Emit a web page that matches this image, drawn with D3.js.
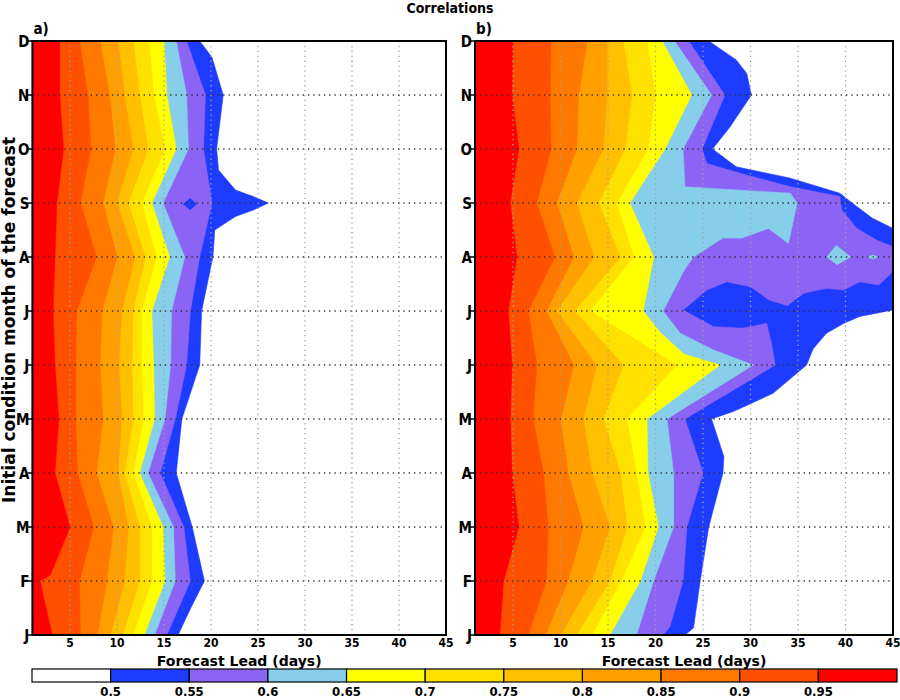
<!DOCTYPE html>
<html><head><meta charset="utf-8">
<script src="https://cdn.jsdelivr.net/npm/d3@7"></script>
<style>
body{margin:0;background:#fff;}
svg text{font-family:"DejaVu Sans Condensed","DejaVu Sans",sans-serif;font-stretch:condensed;font-weight:bold;fill:#000;}
svg text.wide{font-family:"DejaVu Sans",sans-serif;font-stretch:normal;}
</style></head>
<body><svg id="c" width="900" height="700"></svg>
<script>
// ---- categories / ticks ----
const months = ["J","F","M","A","M","J","J","A","S","O","N","D"];
const leadTicks = [5,10,15,20,25,30,35,40,45];
const levels = [0.5,0.55,0.6,0.65,0.7,0.75,0.8,0.85,0.9,0.95];
const levelLabels = ["0.5","0.55","0.6","0.65","0.7","0.75","0.8","0.85","0.9","0.95"];
const bandColors = ["#ffffff","#1e3cff","#8c64f5","#87ceeb","#ffff00","#ffe100","#ffc000","#ffa000","#ff7800","#ff5000","#ff0000"];

// ---- panel a: contour lines [lead, monthIndex] from Dec (11) down to Jan (0) ----
const a050 = [[18.8,11],[20.1,10.7],[21.3,10],[20.6,9],[20.8,8.61],[22.6,8.24],[24.5,8.12],[26.1,8],[24.5,7.87],[22.6,7.75],[20.4,7.5],[20.2,7],[19.0,6],[18.8,5],[16.9,4],[16.3,3],[18.0,2],[19.3,1],[17.9,0.52],[16.5,0]];
const a055 = [[17.4,11],[19.4,10],[19.2,9],[20.1,8],[18.8,7],[17.8,6],[17.4,5],[16.2,4],[14.6,3],[17.1,2],[17.8,1],[15.3,0]];
const a060 = [[16.3,11],[17.4,10],[17.6,9],[14.9,8],[17.2,7],[15.8,6],[15.7,5],[15.1,4],[13.3,3],[16.0,2],[16.2,1],[14.0,0]];
const a065 = [[15.0,11],[15.3,10],[16.3,9],[13.7,8],[15.6,7],[13.7,6],[13.9,5],[14.0,4],[12.4,3],[14.9,2],[15.1,1],[12.9,0]];
const a070 = [[13.4,11],[13.9,10],[15.1,9],[12.6,8],[14.2,7],[12.6,6],[12.6,5],[12.8,4],[11.7,3],[13.7,2],[13.7,1],[11.7,0]];
const a075 = [[11.7,11],[12.4,10],[13.3,9],[11.2,8],[13.0,7],[11.7,6],[11.6,5],[11.7,4],[10.8,3],[12.4,2],[12.4,1],[10.6,0]];
const a080 = [[10.1,11],[10.8,10],[11.7,9],[10.0,8],[11.9,7],[10.5,6],[10.2,5],[10.5,4],[10.1,3],[11.2,2],[10.8,1],[9.3,0]];
const a085 = [[8.2,11],[9.2,10],[9.8,9],[8.5,8],[10.0,7],[8.4,6],[8.2,5],[8.5,4],[7.8,3],[9.6,2],[8.9,1],[7.9,0]];
const a090 = [[6.0,11],[6.9,10],[7.2,9],[6.1,8],[7.8,7],[5.7,6],[5.6,5],[5.6,4],[5.8,3],[7.5,2],[6.0,1],[6.1,0]];
const a095 = [[3.9,11],[3.9,10],[4.3,9],[3.6,8],[3.4,7],[3.2,6],[3.4,5],[3.8,4],[3.4,3],[5.0,2],[2.9,1.11],[1.8,1],[3.1,0]];
const aIslands = [{band:1, pts:[[17.0,7.98],[17.8,8.09],[18.5,7.98],[17.8,7.87]]}];

// ---- panel b ----
const b050 = [[25.6,11],[28.5,10.65],[29.6,10.4],[30.1,10],[27.8,9.4],[26.0,9],[28.5,8.67],[34.2,8.46],[39.4,8.18],[40.7,8],[42.8,7.72],[45,7.53],[45,6.02],[41.5,5.9],[39.8,5.77],[38.0,5.59],[36.6,5.3],[35.9,5],[32.4,4.48],[30.1,4.29],[28.2,4.14],[25.9,4],[27.2,3.3],[27.1,3],[25.6,2],[24.7,1],[24.0,0.13],[23.1,0]];
const b055 = [[23.5,11],[27.3,10],[24.9,9],[25.4,8.73],[28.9,8.55],[34.2,8.3],[39.4,8.12],[39.5,8],[39.6,7.87],[41.2,7.53],[43.3,7.31],[45,7.19],[45,6.73],[43.5,6.48],[41.5,6.54],[39.8,6.39],[38.0,6.42],[35.6,6.33],[33.9,6.1],[32.0,6.2],[30.0,6.45],[27.5,6.54],[25.4,6.39],[22.9,6.02],[26.1,5.71],[29.2,5.68],[31.7,5.77],[32.2,5.4],[32.6,5],[23.1,4],[25.0,3],[23.3,2],[22.9,1],[21.5,0.15],[20.8,0]];
const b060 = [[22.0,11],[25.9,10],[22.9,9],[23.1,8.3],[34.2,8.18],[34.9,8],[34.0,7.25],[31.9,7.53],[29.1,7.35],[27.1,7.35],[24.0,7],[23.0,6.75],[20.8,6],[22.6,5.59],[26.1,5.28],[30.3,5],[21.2,4],[21.9,3],[21.9,2],[19.8,1],[18.0,0]];
const b065 = [[20.7,11],[23.8,10],[21.0,9],[17.3,8],[19.8,7],[18.7,6],[20.5,5.6],[23.0,5.2],[26.8,5],[19.1,4],[19.2,3],[20.3,2],[18.4,1],[15.2,0]];
const b070 = [[19.1,11],[20.0,10],[19.2,9],[15.9,8],[17.7,7],[13.1,6],[22.2,5],[17.0,4],[18.0,3],[18.9,2],[16.4,1],[13.3,0]];
const b075 = [[16.6,11],[17.5,10],[16.8,9],[14.0,8],[16.3,7],[11.5,6],[16.6,5],[14.5,4],[16.3,3],[17.0,2],[15.2,1],[11.7,0]];
const b080 = [[14.9,11],[14.9,10],[14.5,9],[11.7,8],[13.5,7],[9.6,6],[13.8,5],[12.4,4],[13.3,3],[15.2,2],[13.3,1],[10.0,0]];
const b085 = [[12.8,11],[11.9,10],[11.7,9],[9.6,8],[11.4,7],[8.5,6],[11.4,5],[10.0,4],[10.8,3],[12.4,2],[10.8,1],[8.4,0]];
const b090 = [[9.0,11],[8.9,10],[9.0,9],[7.5,8],[9.4,7],[6.6,6],[7.5,5],[7.1,4],[8.2,3],[8.7,2],[8.5,1],[6.6,0]];
const b095 = [[5.0,11],[4.9,10],[5.6,9],[4.7,8],[5.4,7],[4.5,6],[4.9,5],[4.7,4],[4.9,3],[5.6,2],[4.0,1],[3.6,0]];
const bIslands = [{band:3, pts:[[38.0,7.0],[39.0,7.22],[40.6,7.0],[39.1,6.85]]},{band:3, pts:[[42.2,7.0],[42.9,7.04],[43.5,7.0],[42.9,6.96]]}];

const panels = [
  {id:"a", label:"a)", x0:32.4, x1:446, lines:[a050,a055,a060,a065,a070,a075,a080,a085,a090,a095], islands:aIslands},
  {id:"b", label:"b)", x0:475, x1:893, lines:[b050,b055,b060,b065,b070,b075,b080,b085,b090,b095], islands:bIslands}
];
const yTop = 41, yBot = 635;

const svg = d3.select("#c");
svg.append("text").attr("x",450).attr("y",13).attr("text-anchor","middle").attr("font-size",14).text("Correlations");

panels.forEach(p=>{
  const x = d3.scaleLinear().domain([1,45]).range([p.x0,p.x1]);
  const y = d3.scaleLinear().domain([0,11]).range([yBot,yTop]);
  const g = svg.append("g");
  g.append("clipPath").attr("id","clip"+p.id).append("rect")
    .attr("x",x(1)).attr("y",y(11)).attr("width",x(45)-x(1)).attr("height",y(0)-y(11));
  const body = g.append("g").attr("clip-path",`url(#clip${p.id})`);
  body.append("rect").attr("x",x(1)).attr("y",y(11)).attr("width",x(45)-x(1)).attr("height",y(0)-y(11)).attr("fill",bandColors[0]);
  const line = d3.line().x(d=>x(d[0])).y(d=>y(d[1]));
  p.lines.forEach((ln,i)=>{
    const pts = [[1,11]].concat(ln).concat([[1,0]]);
    body.append("path").attr("d",line(pts)+"Z").attr("fill",bandColors[i+1]).attr("stroke",bandColors[i+1]).attr("stroke-width",0.6);
  });
  p.islands.forEach(isl=>{
    body.append("path").attr("d",line(isl.pts)+"Z").attr("fill",bandColors[isl.band]);
  });
  // grid
  leadTicks.filter(t=>t<45).forEach(t=>{
    body.append("line").attr("x1",x(t)).attr("x2",x(t)).attr("y1",y(11)).attr("y2",y(0))
      .attr("stroke","#a0a0a0").attr("stroke-width",1.3).attr("stroke-dasharray","1.3,3.6");
  });
  d3.range(1,11).forEach(m=>{
    body.append("line").attr("x1",x(1)).attr("x2",x(45)).attr("y1",y(m)).attr("y2",y(m))
      .attr("stroke","#303030").attr("stroke-width",1.3).attr("stroke-dasharray","1.3,4");
  });
  // frame
  g.append("rect").attr("x",x(1)).attr("y",y(11)).attr("width",x(45)-x(1)).attr("height",y(0)-y(11))
    .attr("fill","none").attr("stroke","#000").attr("stroke-width",2);
  // y axis
  months.forEach((mName,m)=>{
    g.append("line").attr("x1",x(1)-5).attr("x2",x(1)).attr("y1",y(m)).attr("y2",y(m)).attr("stroke","#000").attr("stroke-width",1.5);
    g.append("text").attr("x",x(1)-3).attr("y",y(m)+5.5).attr("text-anchor","end").attr("font-size",15).text(mName);
  });
  // x axis labels
  leadTicks.forEach(t=>{
    g.append("text").attr("x",x(t)).attr("y",647).attr("text-anchor","middle").attr("font-size",12).text(t);
  });
  g.append("text").attr("class","wide").attr("x",(x(1)+x(45))/2).attr("y",666).attr("text-anchor","middle").attr("font-size",14).text("Forecast Lead (days)");
  g.append("text").attr("x",x(1)+1).attr("y",34).attr("font-size",15).text(p.label);
});

svg.append("text").attr("class","wide").attr("transform","translate(15,320) rotate(-90)").attr("text-anchor","middle").attr("font-size",17)
  .text("Initial condition month of the forecast");

// colorbar
const cb = d3.scaleLinear().domain([0,bandColors.length]).range([32,897]);
bandColors.forEach((c,i)=>{
  svg.append("rect").attr("x",cb(i)).attr("y",669).attr("width",cb(i+1)-cb(i)).attr("height",13)
    .attr("fill",c).attr("stroke","#000").attr("stroke-width",1.2);
});
levelLabels.forEach((l,i)=>{
  svg.append("text").attr("x",cb(i+1)).attr("y",696).attr("text-anchor","middle").attr("font-size",13).text(l);
});
</script></body></html>
